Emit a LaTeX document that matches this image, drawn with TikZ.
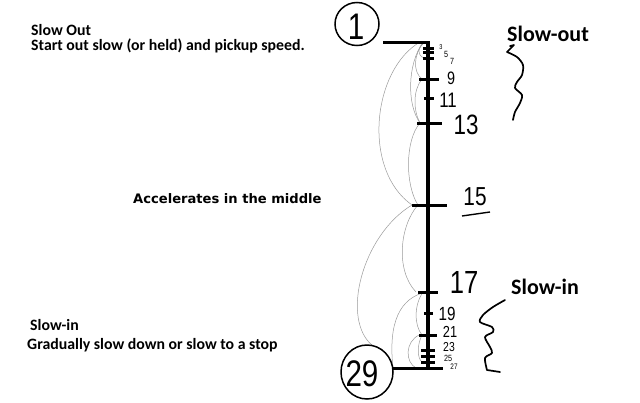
\documentclass[tikz,border=0pt]{standalone}
\usepackage{fontspec}
\setmainfont{Carlito}
\newfontfamily\dvb{DejaVu Sans}
\newfontfamily\hand[FakeStretch=0.8]{Liberation Sans}
\usetikzlibrary{shapes.geometric}
\newcommand\hs[1]{\hand\fontsize{#1}{#1}\selectfont}
\newcommand\mytick[3]{\draw[tickmark] ([xshift=-#2pt]#1) -- ([xshift=#3pt]#1);}
\begin{document}
\begin{tikzpicture}[x=1pt,y=-1pt,
  axis/.style={line width=3.6pt,black},
  tickmark/.style={line width=3pt,black},
  arcline/.style={black!40,line width=0.5pt},
  lbl/.style={font=\bfseries\fontsize{15.8}{18}\selectfont,anchor=base west,inner sep=0pt},
  big/.style={font=\bfseries\fontsize{22}{26}\selectfont,anchor=base west,inner sep=0pt},
  midtext/.style={font=\dvb\bfseries\fontsize{13.1}{15}\selectfont,anchor=base west,inner sep=0pt},
  num/.style={inner sep=0pt,anchor=center},
  ring/.style={ellipse,draw,line width=1.5pt,inner sep=0pt},
  squig/.style={line width=1.7pt,line cap=round,line join=round}]
\useasboundingbox (0,0) rectangle (640,402);

% timeline coordinates
\coordinate (f1) at (428,42);
\coordinate (f3) at (428,48);
\coordinate (f5) at (428,52);
\coordinate (f7) at (428,58);
\coordinate (f9) at (428,79);
\coordinate (f11) at (428,98);
\coordinate (f13) at (428,123);
\coordinate (f15) at (428,205);
\coordinate (f17) at (428,292);
\coordinate (f19) at (428,313);
\coordinate (f21) at (428,335);
\coordinate (f23) at (428,350);
\coordinate (f25) at (428,356);
\coordinate (f27) at (428,362);
\coordinate (f29) at (428,368);

% arcs
\draw[arcline] ([xshift=-3pt]f1) .. controls (417,48) and (417,55) .. ([xshift=-4pt]f7);
\draw[arcline] ([xshift=-4pt]f1) .. controls (413,55) and (413,72) .. ([xshift=-6pt]f9);
\draw[arcline] ([xshift=-5pt]f1) .. controls (407,65) and (407,105) .. ([xshift=-8pt]f13);
\draw[arcline] ([xshift=-6pt]f9) .. controls (413,90) and (413,110) .. ([xshift=-8pt]f13);
\draw[arcline] ([xshift=-8pt]f1) .. controls (372,70) and (362,170) .. ([xshift=-16pt]f15);
\draw[arcline] ([xshift=-8pt]f13) .. controls (405,140) and (405,185) .. ([xshift=-10pt]f15);
\coordinate (c29top) at (373,346);
\draw[arcline] ([xshift=-16pt]f15) .. controls (362,235) and (340,320) .. (c29top);
\draw[arcline] ([xshift=-10pt]f15) .. controls (400,225) and (395,270) .. ([xshift=-12pt]f17);
\draw[arcline] ([xshift=-2pt]f17) .. controls (400,298) and (388,322) .. ([xshift=-35pt]f29);
\draw[arcline] ([xshift=-5pt]f17) .. controls (414,305) and (414,325) .. ([xshift=-6pt]f21);
\draw[arcline] ([xshift=-9pt]f21) .. controls (405,342) and (405,362) .. ([xshift=-12pt]f29);
\draw[arcline] ([xshift=-6pt]f21) .. controls (417,345) and (417,358) .. ([xshift=-6pt]f27);

% axis and bars
\draw[axis] (f1) -- (f29);
\mytick{f1}{45}{2}
\mytick{f29}{35}{15}
\mytick{f3}{5}{6}
\mytick{f5}{5}{6}
\mytick{f7}{5}{6}
\mytick{f9}{9}{11}
\mytick{f11}{4}{6}
\mytick{f13}{11}{14}
\mytick{f15}{16}{19}
\mytick{f17}{10}{10}
\mytick{f19}{4}{5}
\mytick{f21}{9}{9}
\mytick{f23}{7}{7}
\mytick{f25}{7}{7}
\mytick{f27}{7}{7}

% circles
\node[ring,minimum width=44pt,minimum height=43pt] (c1) at (357,24) {};
\node[ring,minimum width=52pt,minimum height=54pt] (c29) at (367,372) {};
\node[num,font=\hs{37}] (n1) at (356,27) {1};
\node[num,font=\hs{37}] (n29) at (362,374) {29};

% frame numbers
\node[num,font=\hs{7}] (n3) at (441,47) {3};
\node[num,font=\hs{9}] (n5) at (446,54) {5};
\node[num,font=\hs{9}] (n7) at (452,61) {7};
\node[num,font=\hs{18}] (n9) at (451,78) {9};
\node[num,font=\hs{21}] (n11) at (448,100) {11};
\node[num,font=\hs{28}] (n13) at (466,125) {13};
\node[num,font=\hs{26}] (n15) at (475,197) {15};
\coordinate (ulA) at (462,216);
\coordinate (ulB) at (490,212);
\draw[line width=1.4pt] (ulA) -- (ulB);
\node[num,font=\hs{32}] (n17) at (464,282) {17};
\node[num,font=\hs{19}] (n19) at (447,314) {19};
\node[num,font=\hs{16}] (n21) at (450,331.5) {21};
\node[num,font=\hs{13}] (n23) at (449,347.5) {23};
\node[num,font=\hs{9}] (n25) at (448,358) {25};
\node[num,font=\hs{8}] (n27) at (454,366.5) {27};

% squiggles
\draw[squig] (510,46) -- (514,45) -- (507,52) plot[smooth] coordinates {(507,52) (517,57) (523,65) (522,75) (517,82) (515,88) (522,95) (520,103) (515,112) (513,120)};
\draw[squig] plot[smooth] coordinates {(505,300) (493,307) (483,315) (480,322) (492,327) (493,332) (485,337) (490,347) (492,353) (485,358) (487,370)} -- (500,372);

% texts
\node[lbl] (t1) at (31,35) {Slow Out};
\node[lbl] (t2) at (31,50) {Start out slow (or held) and pickup speed.};
\node[midtext] (t3) at (133,203) {Accelerates in the middle};
\node[lbl] (t4) at (30,330) {Slow-in};
\node[lbl] (t5) at (27,349) {Gradually slow down or slow to a stop};
\node[big] (t6) at (507,41) {Slow-out};
\node[big] (t7) at (511,294) {Slow-in};
\end{tikzpicture}
\end{document}
